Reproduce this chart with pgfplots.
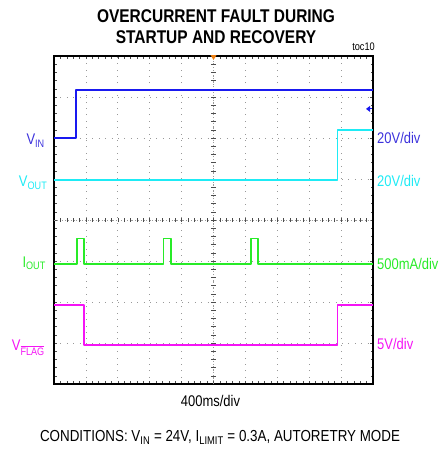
\documentclass[border=0pt]{standalone}
\usepackage{fontspec}
\setmainfont{Liberation Sans}[FakeStretch=0.84]
\usepackage{pgfplots}
\pgfplotsset{compat=1.18}
\definecolor{tblue}{RGB}{25,25,240}
\definecolor{lblue}{RGB}{60,50,220}
\definecolor{tcyan}{RGB}{30,235,245}
\definecolor{tgreen}{RGB}{40,235,40}
\definecolor{tmag}{RGB}{245,20,245}
\definecolor{torange}{RGB}{240,130,20}
\newcommand{\lab}{\fontsize{15.5}{17}\selectfont}
\begin{document}
\begin{tikzpicture}
\useasboundingbox (0,0) rectangle (440bp,449bp);
\begin{axis}[
  at={(54bp,65bp)}, anchor=south west,
  scale only axis, width=319bp, height=328bp,
  xmin=0, xmax=10, ymin=0, ymax=8,
  xtick={0,...,10}, ytick={0,...,8},
  xticklabels={}, yticklabels={},
  minor tick num=4,
  tick align=inside,
  major tick length=3bp, minor tick length=2.5bp,
  tick style={black!70, line width=0.5bp},
  grid=major,
  major grid style={gray!80, line width=0.8bp, dash pattern=on 0.8bp off 5.6bp},
  axis line style={black, line width=1.1bp},
  clip=false,
]
% center cross with ticks
\draw[gray!80, line width=0.8bp, dash pattern=on 0.8bp off 2bp] (axis cs:5,0) -- (axis cs:5,8);
\draw[gray!80, line width=0.8bp, dash pattern=on 0.8bp off 2bp] (axis cs:0,4) -- (axis cs:10,4);
\pgfplotsinvokeforeach{0.2,0.4,...,9.8}{
  \draw[black!70, line width=0.5bp] ([yshift=-2.2bp]axis cs:#1,4) -- ([yshift=2.2bp]axis cs:#1,4);
}
\pgfplotsinvokeforeach{0.2,0.4,...,7.8}{
  \draw[black!70, line width=0.5bp] ([xshift=-2.2bp]axis cs:5,#1) -- ([xshift=2.2bp]axis cs:5,#1);
}
% traces
\addplot[tblue, line width=1.8bp, line join=round] coordinates {
 (0,6.0) (0.68,6.0) (0.68,7.17) (10,7.17)};
\addplot[tcyan, line width=1.8bp, line join=round] coordinates {
 (0,4.97) (8.89,4.97) (8.89,6.2) (10,6.2)};
\addplot[tgreen, line width=1.8bp, line join=round] coordinates {
 (0,2.93) (0.71,2.93) (0.71,3.55) (0.95,3.55) (0.95,2.93)
 (3.43,2.93) (3.43,3.55) (3.68,3.55) (3.68,2.93)
 (6.17,2.93) (6.17,3.55) (6.39,3.55) (6.39,2.93) (10,2.93)};
\addplot[tmag, line width=1.8bp, line join=round] coordinates {
 (0,1.92) (0.95,1.92) (0.95,0.95) (8.89,0.95) (8.89,1.92) (10,1.92)};
% scope markers
\fill[torange] ([xshift=-3bp,yshift=1bp]axis cs:5,8) -- ([xshift=3bp,yshift=1bp]axis cs:5,8) -- ([yshift=-4bp]axis cs:5,8) -- cycle;
\fill[tblue] ([xshift=-7bp]axis cs:10,6.71) -- ([xshift=-3bp,yshift=3bp]axis cs:10,6.71) -- ([xshift=-3bp,yshift=-3bp]axis cs:10,6.71) -- cycle;
\draw[tblue, line width=1bp] ([xshift=-4bp]axis cs:10,6.71) -- ([xshift=-1bp]axis cs:10,6.71);
\end{axis}
% title and texts
\node[anchor=base, font=\fontsize{18.5}{21}\selectfont\bfseries] at (216bp,426.7bp) {OVERCURRENT FAULT DURING};
\node[anchor=base, font=\fontsize{18.5}{21}\selectfont\bfseries] at (216bp,405.7bp) {STARTUP AND RECOVERY};
\node[anchor=base east, inner sep=0pt, font=\fontsize{11}{12}\selectfont] at (375bp,398.3bp) {toc10};
% left labels
\node[anchor=base east, inner sep=0pt, text=lblue, font=\lab] at (45bp,304bp) {V\textsubscript{IN}};
\node[anchor=base east, inner sep=0pt, text=tcyan, font=\lab] at (47.5bp,262.3bp) {V\textsubscript{OUT}};
\node[anchor=base east, inner sep=0pt, text=tgreen, font=\lab] at (46bp,181.7bp) {I\textsubscript{OUT}};
\node[anchor=base east, inner sep=0pt, text=tmag, font=\lab] at (45bp,98bp) {V\textsubscript{$\overline{\mbox{FLAG}}$}};
% right labels
\node[anchor=base west, inner sep=0pt, text=lblue, font=\lab] at (377bp,305bp) {20V/div};
\node[anchor=base west, inner sep=0pt, text=tcyan, font=\lab] at (377bp,262.3bp) {20V/div};
\node[anchor=base west, inner sep=0pt, text=tgreen, font=\lab] at (377bp,179bp) {500mA/div};
\node[anchor=base west, inner sep=0pt, text=tmag, font=\lab] at (377bp,99bp) {5V/div};
% bottom
\node[anchor=base, inner sep=0pt, font=\fontsize{15.5}{17}\selectfont] at (210.5bp,42.3bp) {400ms/div};
\node[anchor=base, inner sep=0pt, font=\fontsize{16}{18}\selectfont] at (220bp,7.3bp) {CONDITIONS: V\textsubscript{IN} = 24V, I\textsubscript{LIMIT} = 0.3A, AUTORETRY MODE};
\end{tikzpicture}
\end{document}
